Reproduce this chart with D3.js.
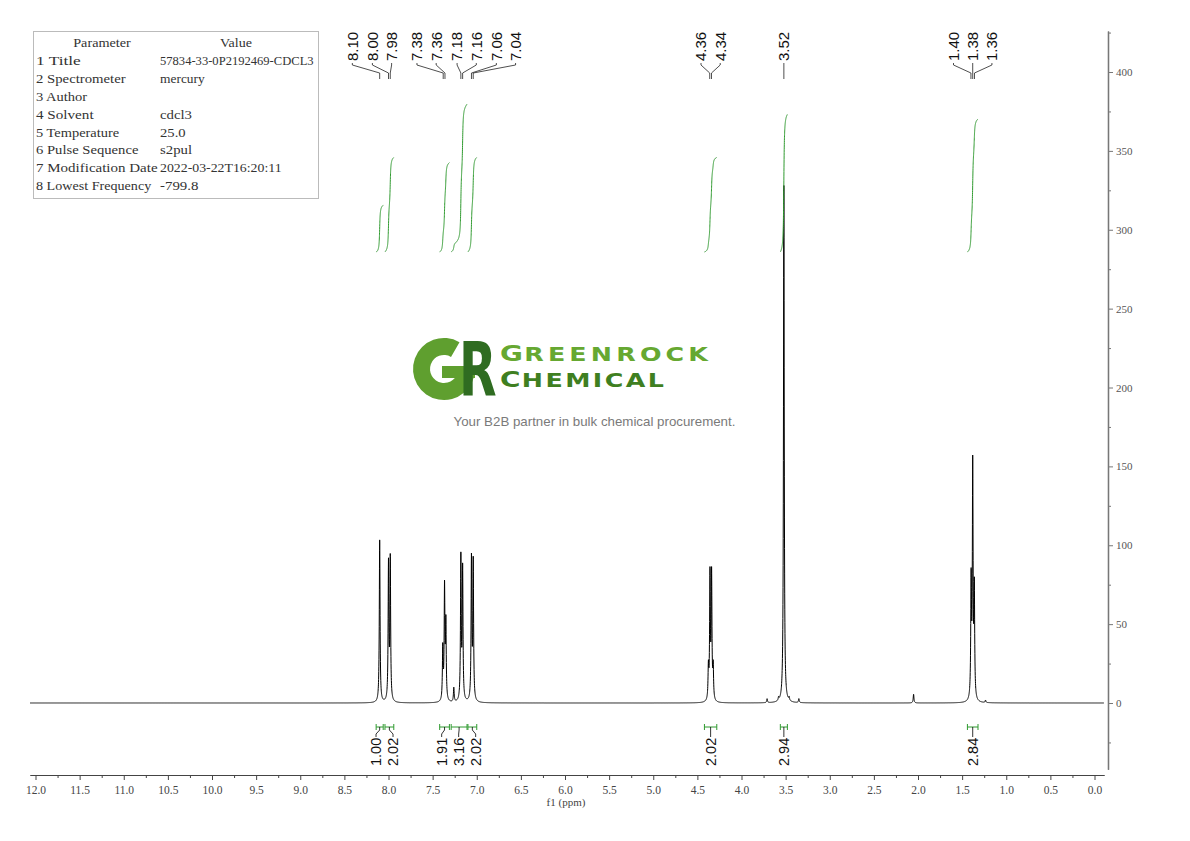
<!DOCTYPE html>
<html><head><meta charset="utf-8">
<script src="https://cdn.jsdelivr.net/npm/d3@7"></script>
<style>body{margin:0;background:#fff} svg{display:block}</style>
</head><body><svg id="c" width="1190" height="841"></svg>
<script>
// ---------------- data ----------------
const peakShifts  = [8.100, 8.000, 7.980, 7.385, 7.365, 7.350, 7.260, 7.180, 7.160, 7.060, 7.040,
                     4.375, 4.357, 4.339, 4.321, 3.710, 3.580, 3.520, 3.460, 3.350, 2.050,
                     1.398, 1.380, 1.362, 1.235];
const peakHeights = [103, 86.5, 89.5, 33, 71, 48, 9, 90.5, 83, 89.5, 87.5,
                     20, 79, 79, 20, 2.5, 2, 328, 2, 2.5, 5.5,
                     74, 147, 68, 1.5];
const peakLabels  = [8.10, 8.00, 7.98, 7.38, 7.36, 7.18, 7.16, 7.06, 7.04, 4.36, 4.34, 3.52, 1.40, 1.38, 1.36];
const integFrom   = [8.14, 8.04, 7.42, 7.29, 7.10, 4.42, 3.56, 1.44];
const integTo     = [8.06, 7.94, 7.31, 7.11, 7.00, 4.28, 3.48, 1.32];
const integValues = [1.00, 2.02, 1.91, 3.16, 2.02, 2.02, 2.94, 2.84];
const xMajorTicks = d3.range(0, 24.5, 1).map(i => i * 0.5);
const xMinorTicks = d3.range(0, 24, 1).map(i => i * 0.5 + 0.25);
const yMajorTicks = [0, 50, 100, 150, 200, 250, 300, 350, 400];
const yMinorTicks = [-25, 25, 75, 125, 175, 225, 275, 325, 375, 425];
const paramNames  = ["1 Title", "2 Spectrometer", "3 Author", "4 Solvent", "5 Temperature",
                     "6 Pulse Sequence", "7 Modification Date", "8 Lowest Frequency"];
const paramValues = ["57834-33-0P2192469-CDCL3", "mercury", "", "cdcl3", "25.0",
                     "s2pul", "2022-03-22T16:20:11", "-799.8"];

// ---------------- setup ----------------
const svg = d3.select("#c");
const x = d3.scaleLinear().domain([12, 0]).range([35.5, 1094.5]);
const xs = d3.scaleLinear().domain([x.invert(30), x.invert(1104)]).range([30, 1104]);
const y = d3.scaleLinear().domain([0, 400]).range([703, 72]);
const yAx = d3.scaleLinear().domain([-42, 426]).range([y(-42), y(426)]);
const serif = "'Liberation Serif','DejaVu Serif',serif";
const sans = "'Liberation Sans',Arial,sans-serif";
const GREEN = "#2f9a2f";

// ---------------- spectrum ----------------
const W = 0.005;
function intensity(p) {
  let s = 0;
  for (let i = 0; i < peakShifts.length; i++) {
    const d = (p - peakShifts[i]) / W;
    s += peakHeights[i] / (1 + d * d);
  }
  return s;
}
const grid = d3.range(xs.domain()[0], xs.domain()[1], -0.001).concat(peakShifts).sort((a, b) => b - a);
const spec = grid.map(p => [p, intensity(p)]);

// ---------------- watermark / logo ----------------
const logo = svg.append("g");
const gc = [444, 369];
logo.append("path")
  .attr("transform", `translate(${gc[0]},${gc[1]})`)
  .attr("d", d3.arc().innerRadius(14).outerRadius(31).startAngle(Math.PI / 2).endAngle(Math.PI * 2 + Math.PI / 6)())
  .attr("fill", "#5f9f2f");
logo.append("rect").attr("x", gc[0] - 2).attr("y", gc[1] - 3).attr("width", 33).attr("height", 12).attr("fill", "#5f9f2f");
logo.append("text").attr("x", 0).attr("y", 0)
  .attr("transform", "translate(459,396) scale(0.66,1)")
  .attr("font-family", "'DejaVu Sans',sans-serif").attr("font-weight", "bold").attr("font-size", 74)
  .attr("fill", "#2f6c21").text("R");

const sx = 1.3;
const lt = logo.append("text").attr("transform", `scale(${sx},1)`)
  .attr("font-family", "'DejaVu Sans',sans-serif").attr("font-weight", "bold");
[{ big: "G", rest: "REENROCK", y: 361.5, col: "#66a831", end: 708 },
 { big: "C", rest: "HEMICAL", y: 387, col: "#3f7f21", end: 664 }].forEach(l => {
  const b = lt.append("tspan").attr("x", 500 / sx).attr("y", l.y).attr("font-size", 21.5).attr("fill", l.col).text(l.big);
  const bw = b.node().getComputedTextLength();
  const startLocal = 500 / sx + bw + 1;
  const r = lt.append("tspan").attr("x", startLocal).attr("y", l.y).attr("font-size", 19.5).attr("fill", l.col).text(l.rest);
  const L = r.node().getComputedTextLength();
  const T = l.end / sx - startLocal;
  r.attr("letter-spacing", (T - L) / (l.rest.length - 1));
});
svg.append("text").attr("x", 594.5).attr("y", 426).attr("text-anchor", "middle")
  .attr("font-family", sans).attr("font-size", 13.3).attr("fill", "#7a7a7a")
  .text("Your B2B partner in bulk chemical procurement.");

// ---------------- draw spectrum ----------------
svg.append("path")
  .attr("d", d3.line().x(d => x(d[0])).y(d => y(d[1]))(spec))
  .attr("fill", "none").attr("stroke", "#000").attr("stroke-width", 1);

// ---------------- integrals ----------------
const INT_BASE = 252, INT_UNIT = 46.8;
integFrom.forEach((f, i) => {
  const t = integTo[i];
  const pts = d3.range(f, t, -0.0005);
  let cum = 0;
  const cs = pts.map(p => { cum += intensity(p); return [p, cum]; });
  const tot = cum;
  svg.append("path")
    .attr("d", d3.line().x(d => x(d[0])).y(d => INT_BASE - d[1] / tot * integValues[i] * INT_UNIT)(cs))
    .attr("fill", "none").attr("stroke", GREEN).attr("stroke-width", 1);
});

// label spreading: least-squares placement with minimum gaps (pool adjacent violators)
function spread(desired, gapFn) {
  const gaps = desired.slice(1).map((d, i) => gapFn(d - desired[i]));
  let cl = desired.map((d, i) => ({ items: [i], off: [0], c: d }));
  const fit = g => { g.c = d3.mean(g.items, (j, n) => desired[j] - g.off[n]); };
  let merged = true;
  while (merged) {
    merged = false;
    for (let k = 0; k < cl.length - 1; k++) {
      const a = cl[k], b = cl[k + 1];
      const aLast = a.items[a.items.length - 1];
      const g = gaps[aLast];
      const aR = a.c + a.off[a.off.length - 1];
      const bL = b.c + b.off[0];
      if (bL - aR < g - 1e-6) {
        const base = a.off[a.off.length - 1] + g;
        const nw = { items: a.items.concat(b.items), off: a.off.concat(b.off.map(o => o + base)) };
        fit(nw);
        cl.splice(k, 2, nw);
        merged = true; break;
      }
    }
  }
  const out = new Array(desired.length);
  cl.forEach(g => g.items.forEach((j, n) => { out[j] = g.c + g.off[n]; }));
  return out;
}

// integration brackets and labels
const BR_Y = 727;
const cx = integFrom.map((f, i) => (x(f) + x(integTo[i])) / 2);
const ilx = spread(cx, () => 17);
const ig = svg.append("g");
integFrom.forEach((f, i) => {
  const x1 = x(f), x2 = x(integTo[i]);
  ig.append("line").attr("x1", x1).attr("x2", x2).attr("y1", BR_Y).attr("y2", BR_Y).attr("stroke", GREEN);
  [x1, x2].forEach(xx => ig.append("line").attr("x1", xx).attr("x2", xx).attr("y1", BR_Y - 3).attr("y2", BR_Y + 3).attr("stroke", GREEN));
  ig.append("path").attr("d", `M${cx[i]},${BR_Y}L${cx[i]},${BR_Y + 3}L${ilx[i]},${BR_Y + 7}L${ilx[i]},${BR_Y + 10}`)
    .attr("fill", "none").attr("stroke", "#000").attr("stroke-width", 0.8);
  ig.append("text").attr("transform", `translate(${ilx[i]},766) rotate(-90)`).attr("dy", "0.36em")
    .attr("font-family", sans).attr("font-size", 14.5).attr("fill", "#111")
    .text(integValues[i].toFixed(2));
});

// peak labels at top
const pdx = peakLabels.map(p => x(p));
const plx = spread(pdx, d => 19 + Math.min(9, 0.12 * Math.abs(d)));
const pg = svg.append("g");
peakLabels.forEach((p, i) => {
  pg.append("text").attr("transform", `translate(${plx[i]},61) rotate(-90)`).attr("dy", "0.36em")
    .attr("font-family", sans).attr("font-size", 15).attr("fill", "#111").text(p.toFixed(2));
  pg.append("path").attr("d", `M${plx[i]},63L${plx[i]},65L${pdx[i]},73L${pdx[i]},79`)
    .attr("fill", "none").attr("stroke", "#222").attr("stroke-width", 0.8);
});

// ---------------- axes ----------------
const fmt = d => d.toFixed(1);
const xAxis = svg.append("g").attr("transform", "translate(0,775)")
  .call(d3.axisBottom(xs).tickValues(xMajorTicks).tickFormat(fmt).tickSize(5).tickSizeOuter(0).tickPadding(6));
const xMinor = svg.append("g").attr("transform", "translate(0,775)")
  .call(d3.axisBottom(xs).tickValues(xMinorTicks).tickFormat("").tickSize(3).tickSizeOuter(0));
[xAxis, xMinor].forEach(g => {
  g.select(".domain").attr("stroke", "#444");
  g.selectAll(".tick line").attr("stroke", "#444");
  g.selectAll("text").attr("font-family", serif).attr("font-size", 11.5).attr("fill", "#444");
});
svg.append("text").attr("x", 566).attr("y", 806).attr("text-anchor", "middle")
  .attr("font-family", serif).attr("font-size", 11).attr("fill", "#444").text("f1 (ppm)");

const yAxis = svg.append("g").attr("transform", "translate(1108,0)")
  .call(d3.axisRight(yAx).tickValues(yMajorTicks).tickSize(5).tickSizeOuter(0).tickPadding(3));
const yMinor = svg.append("g").attr("transform", "translate(1108,0)")
  .call(d3.axisRight(yAx).tickValues(yMinorTicks).tickFormat("").tickSize(3).tickSizeOuter(0));
[yAxis, yMinor].forEach(g => {
  g.select(".domain").attr("stroke", "#777").attr("stroke-width", 1.3);
  g.selectAll(".tick line").attr("stroke", "#777");
  g.selectAll("text").attr("font-family", serif).attr("font-size", 11).attr("fill", "#555");
});

// ---------------- parameter table ----------------
const tb = svg.append("g");
tb.append("rect").attr("x", 33.5).attr("y", 31.5).attr("width", 285).attr("height", 167)
  .attr("fill", "#fff").attr("stroke", "#bbb");
const rowY = i => 47 + i * 17.9;
const CH = 6.4;
function cell(str, xx, yy, anchor) {
  if (!str) return;
  tb.append("text").attr("x", xx).attr("y", yy).attr("font-family", serif)
    .attr("font-size", 12.5).attr("fill", "#333").attr("text-anchor", anchor || "start")
    .attr("textLength", str.length * CH).attr("lengthAdjust", "spacingAndGlyphs").text(str);
}
cell("Parameter", 102, rowY(0), "middle");
cell("Value", 236, rowY(0), "middle");
paramNames.forEach((n, i) => {
  cell(n, 36, rowY(i + 1));
  cell(paramValues[i], 160, rowY(i + 1));
});
</script>
</body></html>
